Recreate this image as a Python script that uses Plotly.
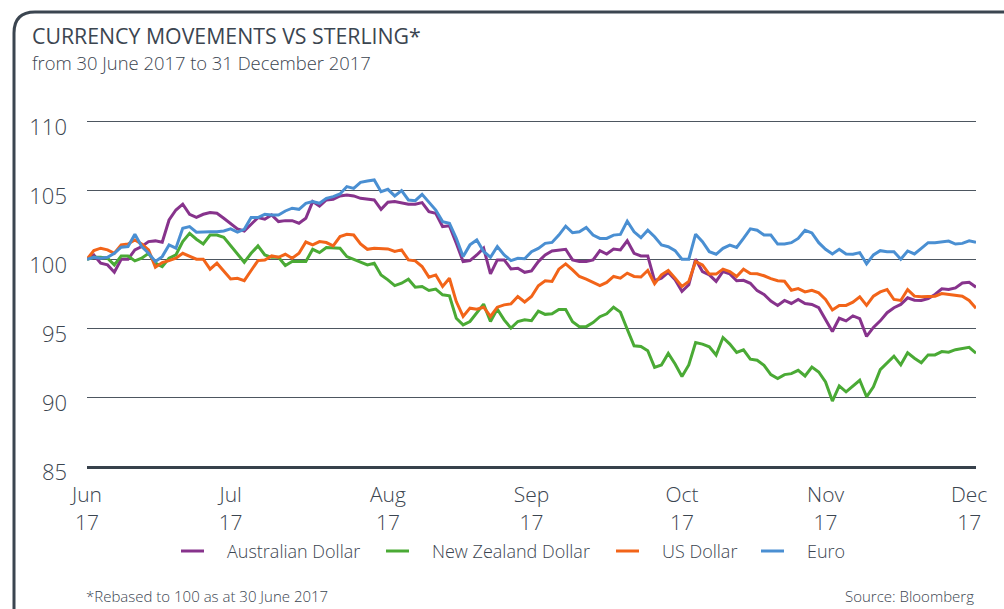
import pandas as pd
import plotly.graph_objects as go

# ---------------- data ----------------
dates = pd.bdate_range("2017-06-30", "2017-12-29")

aud = [100, 100.31, 99.71, 99.59, 99.06, 100.0, 100.0, 100.68, 100.92, 101.28,
       101.33, 101.23, 102.85, 103.57, 103.99, 103.26, 103.04, 103.26, 103.38, 103.33,
       102.97, 102.56, 102.2, 102.05, 102.56, 103.02, 102.9, 103.21, 102.73, 102.8,
       102.8, 102.61, 102.97, 104.18, 103.86, 104.3, 104.35, 104.59, 104.66, 104.59,
       104.42, 104.35, 104.3, 103.62, 104.13, 104.18, 104.06, 103.99, 103.99, 104.11,
       103.45, 103.33, 102.37, 102.42, 101.16, 99.83, 99.9, 100.31, 100.8, 98.94,
       99.95, 99.95, 99.3, 99.35, 99.05, 99.15, 99.83, 100.31, 100.6, 100.67,
       100.72, 99.95, 99.83, 99.83, 99.95, 100.62, 100.38, 100.74, 100.67, 101.34,
       100.43, 100.24, 100.24, 98.44, 98.63, 99.04, 98.51, 97.67, 98.15, 100.0,
       99.11, 98.87, 98.39, 99.11, 98.94, 98.44, 98.47, 98.25, 97.72, 97.44,
       96.96, 96.65, 97.01, 96.79, 97.08, 96.79, 96.72, 96.48, 95.65, 94.76,
       95.72, 95.53, 95.89, 95.69, 94.4, 95.05, 95.53, 96.12, 96.48, 96.72,
       97.2, 97.03, 97.01, 97.15, 97.44, 97.85, 97.8, 97.92, 98.28, 98.33,
       97.97]

nzd = [100, 100.14, 100.14, 100.07, 99.59, 100.24, 100.24, 99.88, 100.07, 100.43,
       99.71, 99.47, 100.07, 100.31, 101.28, 101.88, 101.45, 101.11, 101.76, 101.76,
       101.59, 100.97, 100.39, 99.78, 100.43, 100.97, 100.31, 100.14, 100.14, 99.54,
       99.83, 99.81, 99.83, 100.72, 100.48, 100.85, 100.85, 100.8, 100.19, 100.0,
       99.83, 99.59, 99.71, 98.86, 98.5, 98.09, 98.26, 98.55, 97.97, 98.02,
       97.73, 97.83, 97.42, 97.34, 95.72, 95.24, 95.48, 96.09, 96.74, 95.48,
       96.38, 95.6, 95.0, 95.48, 95.6, 95.54, 96.24, 96.0, 96.04, 96.35,
       96.35, 95.47, 95.11, 95.11, 95.4, 95.83, 96.04, 96.52, 96.16, 94.92,
       93.72, 93.67, 93.36, 92.16, 92.33, 93.17, 92.4, 91.49, 92.33, 93.96,
       93.84, 93.65, 93.05, 94.32, 93.84, 93.24, 93.43, 92.75, 92.67, 92.3,
       91.63, 91.34, 91.63, 91.7, 91.94, 91.53, 92.18, 91.82, 91.1, 89.71,
       90.81, 90.38, 90.81, 91.22, 90.02, 90.74, 91.99, 92.49, 92.97, 92.34,
       93.21, 92.82, 92.49, 93.06, 93.06, 93.3, 93.25, 93.44, 93.54, 93.61,
       93.18]

usd = [100, 100.63, 100.8, 100.68, 100.43, 101.04, 101.11, 101.4, 101.11, 100.68,
       99.42, 99.76, 99.9, 100.07, 100.43, 100.24, 100.0, 100.0, 99.28, 99.71,
       99.15, 98.57, 98.62, 98.45, 99.18, 99.9, 99.95, 100.24, 100.14, 100.36,
       100.07, 100.43, 101.25, 101.04, 101.28, 101.21, 100.97, 101.64, 101.81, 101.76,
       101.11, 100.72, 100.8, 100.8, 100.75, 100.56, 100.68, 99.95, 99.88, 99.47,
       98.7, 98.86, 98.02, 98.62, 96.93, 95.85, 96.45, 96.38, 96.52, 95.85,
       96.52, 96.69, 96.76, 97.29, 96.9, 97.3, 98.08, 98.44, 98.39, 99.28,
       99.66, 99.23, 98.75, 98.56, 98.32, 98.08, 98.32, 98.75, 98.63, 98.99,
       98.75, 98.71, 99.18, 98.23, 98.87, 99.18, 98.63, 98.03, 98.39, 99.83,
       99.59, 98.92, 98.92, 99.28, 99.11, 98.75, 99.28, 98.97, 98.95, 98.8,
       98.59, 98.44, 98.4, 97.75, 97.87, 97.63, 97.75, 97.56, 97.08, 96.32,
       96.65, 96.65, 96.89, 97.27, 96.65, 97.32, 97.63, 97.8, 97.08, 97.01,
       97.8, 97.32, 97.27, 97.32, 97.32, 97.51, 97.44, 97.39, 97.32, 97.01,
       96.44]

eur = [100, 100.14, 100.07, 100.14, 100.43, 100.87, 100.92, 101.81, 100.92, 100.43,
       99.83, 100.19, 101.04, 100.8, 102.25, 102.37, 101.96, 102.0, 102.0, 102.0,
       102.05, 102.2, 101.96, 102.17, 103.02, 103.02, 103.26, 103.21, 103.21, 103.5,
       103.7, 103.62, 104.06, 104.18, 104.06, 104.42, 104.54, 104.73, 105.27, 105.14,
       105.58, 105.68, 105.75, 104.9, 105.07, 104.59, 104.98, 104.3, 104.25, 104.71,
       104.11, 103.57, 102.73, 102.61, 101.52, 100.19, 101.04, 101.4, 100.56, 100.14,
       100.92, 100.31, 99.9, 100.07, 100.03, 100.55, 100.79, 101.15, 101.22, 101.75,
       102.4, 101.92, 101.99, 102.3, 101.75, 101.51, 101.51, 101.75, 101.8, 102.76,
       101.99, 101.56, 102.11, 101.63, 101.03, 100.91, 100.62, 100.0, 100.0, 101.82,
       101.27, 100.55, 100.36, 100.79, 101.03, 100.86, 101.51, 102.2, 102.1, 101.75,
       101.75, 101.1, 101.1, 101.2, 101.51, 102.1, 101.91, 101.2, 100.72, 100.38,
       100.72, 100.38, 100.36, 100.48, 99.67, 100.31, 100.62, 100.55, 100.55, 100.0,
       100.6, 100.38, 100.79, 101.2, 101.2, 101.27, 101.32, 101.1, 101.15, 101.34,
       101.22]

series_names = ["Australian Dollar", "New Zealand Dollar", "US Dollar", "Euro"]
series_colors = ["#87338c", "#4aaa35", "#f26419", "#4a8fd2"]

tick_dates = ["2017-06-30", "2017-07-31", "2017-08-31", "2017-09-29",
              "2017-10-31", "2017-11-29", "2017-12-28"]
tick_labels = ["Jun<br>17", "Jul<br>17", "Aug<br>17", "Sep<br>17",
               "Oct<br>17", "Nov<br>17", "Dec<br>17"]
y_ticks = [85, 90, 95, 100, 105, 110]

# ---------------- layout geometry ----------------
W, H = 1004, 609
L, R, T, B = 87, 28, 120, 143
PW, PH = W - L - R, H - T - B


def px(x):
    return (x - L) / PW


def py(y):
    return (H - B - y) / PH


TEXT = "#3b4550"
FONT = "Open Sans"

fig = go.Figure()
for name, vals, col in zip(series_names, [aud, nzd, usd, eur], series_colors):
    fig.add_trace(go.Scatter(x=dates, y=vals, mode="lines", name=name,
                             showlegend=False, line=dict(color=col, width=3)))

# legend drawn by hand: short dash + label, laid out as in the reference
leg_dash = [(181, 204), (386, 409), (616, 639), (761, 784)]
LEG_Y = 551
shapes = [
    dict(type="path", xref="paper", yref="paper",
         path=f"M {px(14)},{py(640)} L {px(14)},{py(33)} Q {px(14)},{py(12)} {px(35)},{py(12)} L {px(1030)},{py(12)}",
         line=dict(color="#3b4550", width=3)),
]
annotations = []
for (x0, x1), name, col in zip(leg_dash, series_names, series_colors):
    shapes.append(dict(type="line", xref="paper", yref="paper",
                       x0=px(x0), x1=px(x1), y0=py(LEG_Y), y1=py(LEG_Y),
                       line=dict(color=col, width=3)))
    annotations.append(dict(text=name, xref="paper", yref="paper",
                            x=px(x1 + 21), y=py(LEG_Y), xanchor="left", yanchor="middle",
                            showarrow=False,
                            font=dict(size=18, color=TEXT, family=FONT, weight=300)))

annotations += [
    dict(text="CURRENCY MOVEMENTS VS STERLING*", xref="paper", yref="paper",
         x=px(30), y=py(35.5), xanchor="left", yanchor="middle", showarrow=False,
         font=dict(size=21.3, color=TEXT, family=FONT)),
    dict(text="from 30 June 2017 to 31 December 2017", xref="paper", yref="paper",
         x=px(30), y=py(62.5), xanchor="left", yanchor="middle", showarrow=False,
         font=dict(size=18.4, color=TEXT, family=FONT, weight=300)),
    dict(text="*Rebased to 100 as at 30 June 2017", xref="paper", yref="paper",
         x=px(84), y=py(596), xanchor="left", yanchor="middle", showarrow=False,
         font=dict(size=15, color=TEXT, family=FONT, weight=300)),
    dict(text="Source: Bloomberg", xref="paper", yref="paper",
         x=px(976), y=py(596), xanchor="right", yanchor="middle", showarrow=False,
         font=dict(size=15, color=TEXT, family=FONT, weight=300)),
]

fig.update_layout(
    width=W, height=H,
    margin=dict(l=L, r=R, t=T, b=B),
    paper_bgcolor="white", plot_bgcolor="white",
    font=dict(family=FONT, color=TEXT),
    showlegend=False,
    xaxis=dict(type="date", range=["2017-06-30", "2017-12-29"],
               rangebreaks=[dict(bounds=["sat", "mon"])],
               tickvals=tick_dates, ticktext=tick_labels,
               tickfont=dict(size=21, color=TEXT, weight=300),
               showgrid=False, zeroline=False,
               showline=True, linecolor="#37414b", linewidth=3,
               ticks="", ticklabelstandoff=8),
    yaxis=dict(range=[85, 110.1], tickvals=y_ticks,
               tickfont=dict(size=22, color=TEXT, weight=300),
               showgrid=True, gridcolor="#4d5660", gridwidth=1,
               zeroline=False, showline=False, ticks="",
               ticklabelstandoff=19, ticklabelshift=6),
    shapes=shapes,
    annotations=annotations,
)

fig.write_html("out.html", config={"displayModeBar": False},
               post_script="document.body.style.margin='0px';")
